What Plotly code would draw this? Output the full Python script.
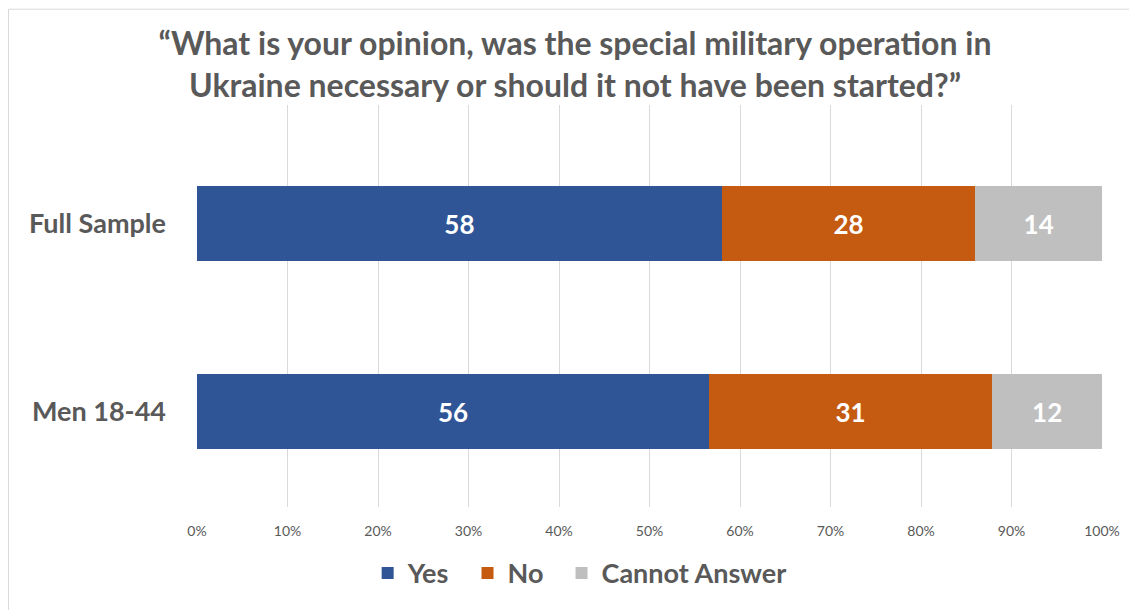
import plotly.graph_objects as go

categories = ["Full Sample", "Men 18-44"]
series_names = ["Yes", "No", "Cannot Answer"]
yes_vals = [58, 56]
no_vals = [28, 31]
cannot_vals = [14, 12]
tick_vals = [0, 10, 20, 30, 40, 50, 60, 70, 80, 90, 100]
tick_text = ["0%", "10%", "20%", "30%", "40%", "50%", "60%", "70%", "80%", "90%", "100%"]
title_text = "“What is your opinion, was the special military operation in<br>Ukraine necessary or should it not have been started?”"

colors = ["#2F5597", "#C55A11", "#BFBFBF"]
FONT = "Lato"
GRAY = "#595959"

# page body has an 8px margin: figure is sized to fit the remaining window
W, H = 1129, 602

fig = go.Figure()
for name, vals, col in zip(series_names, [yes_vals, no_vals, cannot_vals], colors):
    fig.add_trace(go.Bar(
        y=categories, x=vals, name=name + "  ", orientation="h",
        marker=dict(color=col, line=dict(width=0)),
        text=[str(v) for v in vals], textposition="inside",
        insidetextanchor="middle",
        textfont=dict(family=FONT, size=26, color="white", weight="bold"),
        width=0.4, hoverinfo="skip",
    ))

fig.update_layout(
    barmode="stack", barnorm="percent",
    width=W, height=H,
    margin=dict(l=189, r=35, t=97, b=100),
    paper_bgcolor="white", plot_bgcolor="white",
    title=dict(text=title_text, x=567 / W, xanchor="center", xref="container",
               y=1 - 47 / H, yanchor="top", yref="container",
               font=dict(family=FONT, size=32, color=GRAY, weight="bold")),
    showlegend=True,
    legend=dict(orientation="h", x=0.43, xanchor="center", y=-0.165, yanchor="middle",
                font=dict(family=FONT, size=27, color=GRAY, weight="bold"),
                traceorder="normal", itemwidth=30),
    xaxis=dict(range=[0, 100], tickvals=tick_vals, ticktext=tick_text,
               showgrid=True, gridcolor="#D9D9D9", gridwidth=1,
               zeroline=False, showline=False,
               ticks="outside", ticklen=11, tickcolor="rgba(0,0,0,0)",
               tickfont=dict(family=FONT, size=14, color=GRAY), fixedrange=True),
    yaxis=dict(categoryorder="array", categoryarray=categories[::-1],
               range=[-0.507, 1.631], showgrid=False, zeroline=False, showline=False,
               ticklabelstandoff=30,
               tickfont=dict(family=FONT, size=27, color=GRAY, weight="bold")),
    shapes=[dict(type="rect", xref="paper", yref="paper",
                 x0=(8.5 - 197) / 905, x1=(1135 - 197) / 905,
                 y0=(510 - 640) / 405, y1=(510 - 8.5) / 405,
                 line=dict(color="#D9D9D9", width=1), fillcolor="rgba(0,0,0,0)",
                 layer="below")],
)

fig.write_html("out.html")
